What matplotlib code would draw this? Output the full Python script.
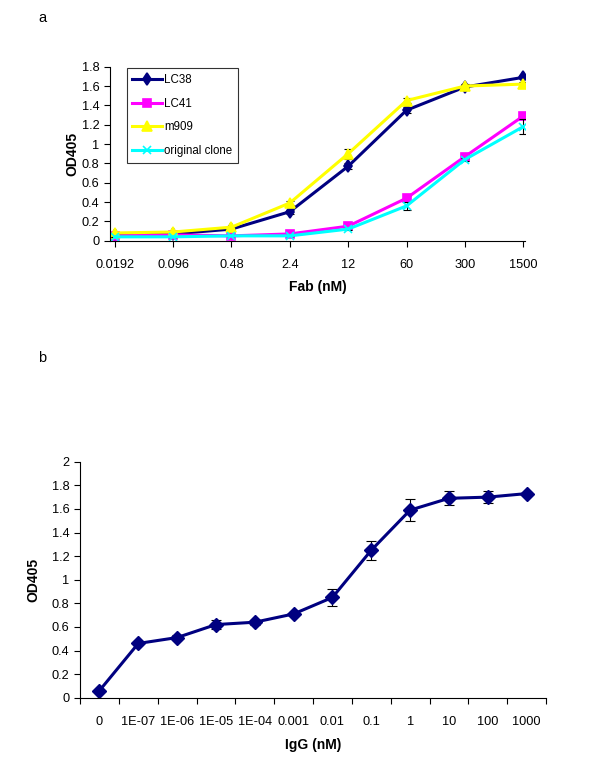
import matplotlib

matplotlib.use("Agg")
import matplotlib.pyplot as plt
import numpy as np

plt.rcParams["font.family"] = ["Liberation Sans", "DejaVu Sans"]

# panel a: Fab titration
fab_labels = ["0.0192", "0.096", "0.48", "2.4", "12", "60", "300", "1500"]
lc38 = [0.06, 0.07, 0.12, 0.30, 0.77, 1.35, 1.59, 1.69]
lc41 = [0.05, 0.06, 0.05, 0.07, 0.15, 0.44, 0.87, 1.29]
m909 = [0.08, 0.09, 0.14, 0.39, 0.90, 1.45, 1.60, 1.62]
orig = [0.04, 0.04, 0.05, 0.05, 0.12, 0.36, 0.84, 1.18]
lc38_err = [0.0, 0.0, 0.01, 0.02, 0.03, 0.03, 0.02, 0.02]
lc41_err = [0.0, 0.0, 0.0, 0.0, 0.01, 0.02, 0.02, 0.03]
m909_err = [0.0, 0.0, 0.01, 0.02, 0.05, 0.03, 0.02, 0.02]
orig_err = [0.0, 0.0, 0.0, 0.0, 0.01, 0.04, 0.02, 0.08]

# panel b: IgG titration
igg_labels = ["0", "1E-07", "1E-06", "1E-05", "1E-04", "0.001", "0.01",
              "0.1", "1", "10", "100", "1000"]
igg = [0.06, 0.46, 0.51, 0.62, 0.64, 0.71, 0.85, 1.25, 1.59, 1.69, 1.70, 1.73]
igg_err = [0.0, 0.01, 0.02, 0.04, 0.02, 0.02, 0.07, 0.08, 0.09, 0.06, 0.05, 0.01]

fig = plt.figure(figsize=(5.94, 7.83), dpi=100)


def style_axis(ax):
    for side in ("top", "right"):
        ax.spines[side].set_visible(False)
    for side in ("left", "bottom"):
        ax.spines[side].set_linewidth(0.8)
    ax.tick_params(axis="both", direction="out", length=4, width=0.8,
                   labelsize=9.2)


# ---- panel a ----
ax1 = fig.add_axes([0.1852, 0.6926, 0.6987, 0.2222])
x1 = np.arange(len(fab_labels))
series = [
    ("LC38", lc38, lc38_err, "#000080", "d", 6),
    ("LC41", lc41, lc41_err, "#ff00ff", "s", 6),
    ("m909", m909, m909_err, "#ffff00", "^", 7),
    ("original clone", orig, orig_err, "#00ffff", "x", 6),
]
for name, vals, errs, col, mk, ms in series:
    ax1.errorbar(x1, vals, yerr=errs, fmt="none", ecolor="black",
                 elinewidth=0.8, capsize=3, capthick=0.8)
    ax1.plot(x1, vals, color=col, marker=mk, markersize=ms, linewidth=2.2,
             markeredgecolor=col, markeredgewidth=1.2, label=name)
ax1.set_xlim(-0.08, 7.03)
ax1.set_ylim(0, 1.8)
ax1.set_yticks(np.arange(0, 1.81, 0.2))
ax1.set_yticklabels(["0", "0.2", "0.4", "0.6", "0.8", "1", "1.2", "1.4",
                     "1.6", "1.8"])
ax1.set_xticks(x1)
ax1.set_xticklabels(fab_labels)
style_axis(ax1)
ax1.tick_params(axis="x", pad=9)
ax1.set_xlabel("Fab (nM)", fontsize=10, fontweight="bold", labelpad=7)
ax1.set_ylabel("OD405", fontsize=10, fontweight="bold", labelpad=2)
leg = ax1.legend(loc="upper left", bbox_to_anchor=(0.04, 0.99), fontsize=8.3,
                 frameon=True, fancybox=False, edgecolor="black",
                 handlelength=2.6, borderpad=0.5, labelspacing=1.0,
                 handletextpad=0.15, borderaxespad=0)
leg.get_frame().set_linewidth(0.8)
fig.text(38 / 594, 1 - 18 / 783, "a", fontsize=10.5, va="center")

# ---- panel b ----
ax2 = fig.add_axes([0.1347, 0.1089, 0.7845, 0.3014])
x2 = np.arange(len(igg_labels))
ax2.errorbar(x2, igg, yerr=igg_err, fmt="none", ecolor="black",
             elinewidth=0.8, capsize=3.5, capthick=0.8)
ax2.plot(x2, igg, color="#000080", marker="D", markersize=7, linewidth=2.2)
ax2.set_xlim(-0.5, 11.5)
ax2.set_ylim(0, 2)
ax2.set_yticks(np.arange(0, 2.01, 0.2))
ax2.set_yticklabels(["0", "0.2", "0.4", "0.6", "0.8", "1", "1.2", "1.4",
                     "1.6", "1.8", "2"])
ax2.set_xticks(np.arange(-0.5, 11.6, 1))
ax2.set_xticklabels([])
ax2.set_xticks(x2, minor=True)
ax2.set_xticklabels(igg_labels, minor=True)
style_axis(ax2)
ax2.tick_params(axis="x", which="minor", length=0, pad=13, labelsize=9.2)
ax2.set_xlabel("IgG (nM)", fontsize=10, fontweight="bold", labelpad=7)
ax2.set_ylabel("OD405", fontsize=10, fontweight="bold", labelpad=8)
fig.text(38 / 594, 1 - 358 / 783, "b", fontsize=10.5, va="center")

fig.savefig("out.png", dpi=100)
plt.close(fig)
